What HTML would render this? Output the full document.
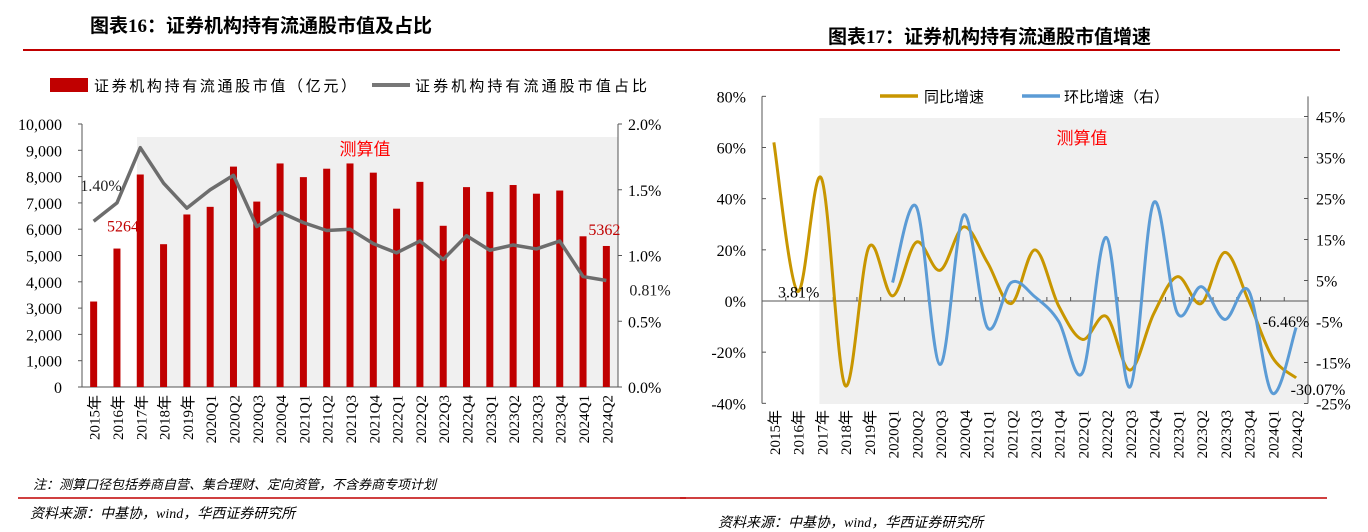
<!DOCTYPE html>
<html><head><meta charset="utf-8"><style>
html,body{margin:0;padding:0;background:#fff;}
svg{display:block;font-family:"Liberation Serif","Noto Serif CJK SC",serif;}
.cjk{font-family:"Liberation Serif","Noto Sans CJK SC",sans-serif;}
</style></head><body>
<svg id="s" width="1368" height="532" viewBox="0 0 1368 532" xmlns="http://www.w3.org/2000/svg">
<text x="90" y="32" font-size="19" font-weight="bold" class="cjk">图表16：证券机构持有流通股市值及占比</text>
<text x="828" y="43" font-size="19" font-weight="bold" class="cjk">图表17：证券机构持有流通股市值增速</text>
<line x1="23" y1="50" x2="1340" y2="50" stroke="#c00000" stroke-width="2"/>
<g id="c1"></g>
<g id="c2"></g>
<text x="33" y="489" font-size="13" font-style="italic" class="cjk">注：测算口径包括券商自营、集合理财、定向资管，不含券商专项计划</text>
<line x1="18" y1="498" x2="686" y2="498" stroke="#c00000" stroke-width="1.5"/>
<text x="30" y="518" font-size="14" font-style="italic" class="cjk">资料来源：中基协，wind，华西证券研究所</text>
<line x1="680" y1="498" x2="1327" y2="498" stroke="#c00000" stroke-width="1.5"/>
<text x="718" y="527" font-size="14" font-style="italic" class="cjk">资料来源：中基协，wind，华西证券研究所</text>
</svg>
<script>
const categories=["2015年","2016年","2017年","2018年","2019年","2020Q1","2020Q2","2020Q3","2020Q4","2021Q1","2021Q2","2021Q3","2021Q4","2022Q1","2022Q2","2022Q3","2022Q4","2023Q1","2023Q2","2023Q3","2023Q4","2024Q1","2024Q2"];
const marketValue=[3250,5264,8080,5430,6560,6850,8380,7050,8500,7980,8300,8500,8150,6780,7800,6130,7600,7420,7680,7350,7470,5730,5362];
const shareRatio=[1.26,1.40,1.82,1.55,1.36,1.50,1.61,1.22,1.33,1.25,1.19,1.20,1.09,1.02,1.11,0.97,1.15,1.04,1.08,1.05,1.11,0.84,0.81];
const leftTicks=[0,1000,2000,3000,4000,5000,6000,7000,8000,9000,10000];
const ratioTicks=[0,0.5,1.0,1.5,2.0];
const yoyGrowth=[62,3.81,48,-33,21,2,23,12,29,15,-1,20,-2,-15,-6,-27,-5,9.5,-1,19,0,-22,-30.07];
const qoqGrowth=[null,null,null,null,null,4.5,23,-15.5,21,-6.5,4.5,1,-5,-17.5,15.5,-21,24,-3,3.5,-4.5,2.5,-22.5,-6.46];
const yoyTicks=[-40,-20,0,20,40,60,80];
const qoqTicks=[-25,-15,-5,5,15,25,35,45];

const NS="http://www.w3.org/2000/svg";
function mk(p,tag,at){const e=document.createElementNS(NS,tag);for(const k in at)e.setAttribute(k,at[k]);p.appendChild(e);return e;}
function smooth(pts){let d="M"+pts[0][0]+","+pts[0][1];for(let i=0;i<pts.length-1;i++){const p0=pts[i-1]||pts[i],p1=pts[i],p2=pts[i+1],p3=pts[i+2]||p2;const t=6;d+=" C"+(p1[0]+(p2[0]-p0[0])/t)+","+(p1[1]+(p2[1]-p0[1])/t)+" "+(p2[0]-(p3[0]-p1[0])/t)+","+(p2[1]-(p3[1]-p1[1])/t)+" "+p2[0]+","+p2[1];}return d;}
const fmt=v=>v.toLocaleString("en-US");

// Chart 16
(function(){
const g=document.getElementById("c1");
const L=82,R=618,T=124,B=387,n=categories.length,bw=(R-L)/n;
const x=i=>L+bw*(i+0.5), y=v=>B-(v/10000)*(B-T), y2=v=>B-(v/2)*(B-T);
let e=mk(g,"rect",{x:137,y:137,width:R-137,height:B-137,fill:"#f0f0f0"});

e=mk(g,"text",{x:365,y:155,"font-size":17,fill:"#ff0000","text-anchor":"middle",class:"cjk"});e.textContent="测算值";

mk(g,"line",{x1:L,y1:T,x2:L,y2:B,stroke:"#555"});
mk(g,"line",{x1:R,y1:T,x2:R,y2:B,stroke:"#555"});
mk(g,"line",{x1:L,y1:B,x2:R,y2:B,stroke:"#555"});
leftTicks.forEach(v=>{mk(g,"line",{x1:L-4,y1:y(v),x2:L,y2:y(v),stroke:"#555"});
const t=mk(g,"text",{x:62,y:y(v)+6,"font-size":16,"text-anchor":"end"});t.textContent=fmt(v);
});
ratioTicks.forEach(v=>{mk(g,"line",{x1:R,y1:y2(v),x2:R+4,y2:y2(v),stroke:"#555"});
const t=mk(g,"text",{x:628,y:y2(v)+6,"font-size":16});t.textContent=v.toFixed(1)+"%";
});
marketValue.forEach((v,i)=>{const r=mk(g,"rect",{x:x(i)-3.5,y:y(v),width:7,height:B-y(v),fill:"#c00000"});
});
const p=mk(g,"polyline",{points:shareRatio.map((v,i)=>x(i)+","+y2(v)).join(" "),fill:"none",stroke:"#6d6d6d","stroke-width":3.5,"stroke-linejoin":"round"});

categories.forEach((c,i)=>{const t=mk(g,"text",{transform:"translate("+(x(i)+6)+",395) rotate(-90)","font-size":15,"text-anchor":"end",class:"cjk"});t.textContent=c;
});
[[101,191,"1.40%","#222"],[x(1)+6,y(marketValue[1])-17,"5264","#c00000"],[x(22)-2,y(marketValue[22])-11,"5362","#c00000"],[650,y2(shareRatio[22])+15,"0.81%","#222"]].forEach(a=>{
const t=mk(g,"text",{x:a[0],y:a[1],"font-size":16,fill:a[3],"text-anchor":"middle"});t.textContent=a[2];
});
e=mk(g,"rect",{x:50,y:78,width:38,height:14,fill:"#c00000"});
e=mk(g,"text",{x:94,y:91,"font-size":15,class:"cjk",textLength:262});e.textContent="证券机构持有流通股市值（亿元）";
e=mk(g,"line",{x1:372,y1:85,x2:410,y2:85,stroke:"#777","stroke-width":4});
e=mk(g,"text",{x:415,y:91,"font-size":15,class:"cjk",textLength:232});e.textContent="证券机构持有流通股市值占比";
})();

// Chart 17
(function(){
const g=document.getElementById("c2");
const L=762,R=1308,n=categories.length,bw=(R-L)/n;
const Y0=301;
const x=i=>L+bw*(i+0.5), y=v=>Y0-v*(307/120), y2=v=>Y0-v*(41/10);
let e=mk(g,"rect",{x:x(2)-2,y:118,width:R-x(2)+2,height:404-118,fill:"#f0f0f0"});

e=mk(g,"text",{x:1082,y:144,"font-size":17,fill:"#ff0000","text-anchor":"middle",class:"cjk"});e.textContent="测算值";

mk(g,"line",{x1:L,y1:y(80),x2:L,y2:y(-40),stroke:"#555"});
mk(g,"line",{x1:R,y1:y(80),x2:R,y2:y(-40),stroke:"#555"});
mk(g,"line",{x1:L,y1:Y0,x2:R,y2:Y0,stroke:"#555"});
for(let i=0;i<=n;i++)mk(g,"line",{x1:L+bw*i,y1:Y0,x2:L+bw*i,y2:Y0-4,stroke:"#555"});
yoyTicks.forEach(v=>{mk(g,"line",{x1:L,y1:y(v),x2:L+4,y2:y(v),stroke:"#555"});
const t=mk(g,"text",{x:746,y:y(v)+6,"font-size":16,"text-anchor":"end"});t.textContent=v+"%";
});
qoqTicks.forEach(v=>{mk(g,"line",{x1:R-4,y1:y2(v),x2:R,y2:y2(v),stroke:"#555"});
const t=mk(g,"text",{x:1316,y:y2(v)+6,"font-size":16});t.textContent=v+"%";
});
let p=mk(g,"path",{d:smooth(yoyGrowth.map((v,i)=>[x(i),y(v)])),fill:"none",stroke:"#c89600","stroke-width":3});

const qp=[];qoqGrowth.forEach((v,i)=>{if(v!==null)qp.push([x(i),y2(v)]);});
p=mk(g,"path",{d:smooth(qp),fill:"none",stroke:"#5b9bd5","stroke-width":3});

categories.forEach((c,i)=>{const t=mk(g,"text",{transform:"translate("+(x(i)+6)+",410) rotate(-90)","font-size":15,"text-anchor":"end",class:"cjk"});t.textContent=c;
});
[[x(1)+1,y(yoyGrowth[1])+6,"3.81%"],[1286,327,"-6.46%"],[1318,395,"-30.07%"]].forEach(a=>{
const t=mk(g,"text",{x:a[0],y:a[1],"font-size":16,"text-anchor":"middle"});t.textContent=a[2];
});
e=mk(g,"line",{x1:880,y1:96,x2:918,y2:96,stroke:"#c89600","stroke-width":3.5});
e=mk(g,"text",{x:924,y:102,"font-size":15,class:"cjk"});e.textContent="同比增速";
e=mk(g,"line",{x1:1022,y1:96,x2:1060,y2:96,stroke:"#5b9bd5","stroke-width":3.5});
e=mk(g,"text",{x:1064,y:102,"font-size":15,class:"cjk"});e.textContent="环比增速（右）";
})();
</script>
</body></html>
